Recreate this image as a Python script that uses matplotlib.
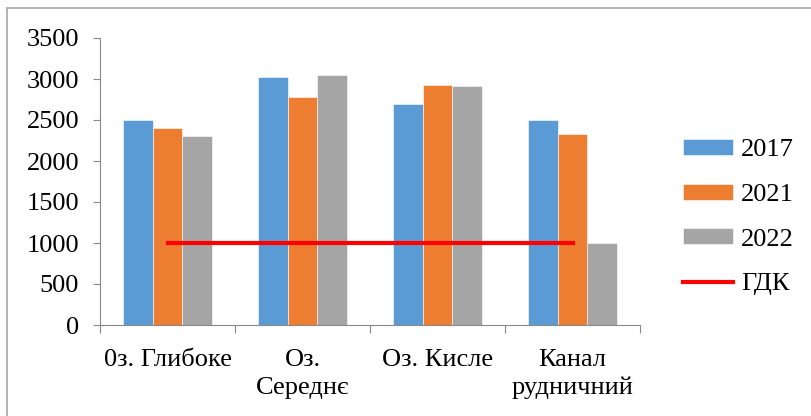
import numpy as np
import matplotlib
matplotlib.use("Agg")
import matplotlib.pyplot as plt
from matplotlib.patches import Rectangle

# ---------------- Data ------------------------
sites = ["0з. Глибоке", "Оз.\nСереднє", "Оз. Кисле", "Канал\nрудничний"]
vals_2017 = [2500, 3020, 2700, 2500]
vals_2021 = [2400, 2785, 2930, 2330]
vals_2022 = [2300, 3050, 2910, 1000]
gdk = [1000, 1000, 1000, 1000]
years = ["2017", "2021", "2022"]

plt.rcParams["font.family"] = ["Liberation Serif", "DejaVu Serif"]

FS = 19
colors = ["#5B9BD5", "#ED7D31", "#A5A5A5"]
bar_w = 0.222
x = np.arange(len(sites))

fig = plt.figure(figsize=(8.11, 4.16), dpi=100)
ax = fig.add_axes([100 / 811, 91 / 416, 540 / 811, 287 / 416])

for i, (vals, lab) in enumerate(zip([vals_2017, vals_2021, vals_2022], years)):
    ax.bar(x + (i - 1) * bar_w, vals, bar_w, color=colors[i], label=lab,
           edgecolor="white", linewidth=0.4, zorder=2)

ax.plot(x, gdk, color="#FF0000", linewidth=3, label="ГДК", zorder=3)

# ---------------- Styling ------------------------
ax.set_xlim(-0.5, 3.5)
ax.set_ylim(0, 3500)
ax.set_yticks(np.arange(0, 3501, 500))
ax.tick_params(axis="y", labelsize=FS, length=5, color="#898989", pad=10)

ax.set_xticks(np.arange(-0.5, 3.6, 1.0))
ax.set_xticklabels([])
ax.tick_params(axis="x", which="major", length=6, color="#898989")
ax.set_xticks(x, minor=True)
ax.set_xticklabels(sites, minor=True, fontsize=FS, linespacing=1.35)
ax.tick_params(axis="x", which="minor", length=0, pad=17)

for s in ["top", "right"]:
    ax.spines[s].set_visible(False)
for s in ["left", "bottom"]:
    ax.spines[s].set_color("#898989")

handles, labels = ax.get_legend_handles_labels()
order = [1, 2, 3, 0]
ax.legend([handles[k] for k in order], [labels[k] for k in order],
          loc="center left", bbox_to_anchor=(683 / 811, 0.478),
          bbox_transform=fig.transFigure, frameon=False, fontsize=FS,
          borderpad=0, borderaxespad=0, handlelength=1.9, handleheight=0.55,
          handletextpad=0.3, labelspacing=0.85)

# outer chart border
fig.patches.append(Rectangle((7 / 811, -0.1), 1.1, 1 - 8 / 416 + 0.1,
                             transform=fig.transFigure, fill=False,
                             edgecolor="#A6A6A6", linewidth=1.2))

fig.patch.set_facecolor("white")
fig.savefig("out.png", dpi=100, facecolor="white")
